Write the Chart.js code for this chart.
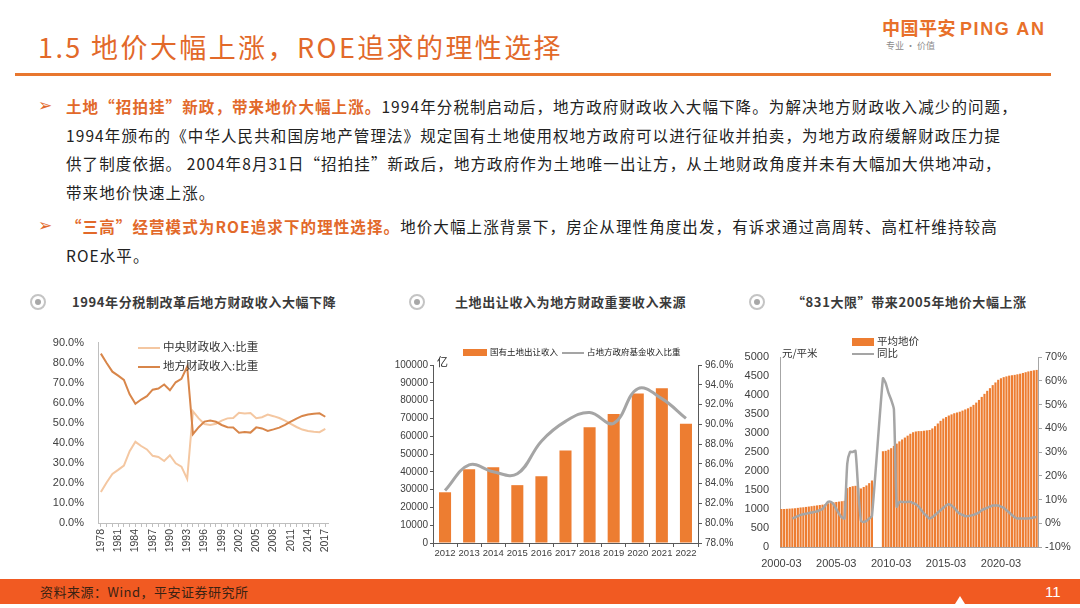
<!DOCTYPE html>
<html>
<head>
<meta charset="utf-8">
<script src="https://cdn.jsdelivr.net/npm/chart.js@4.4.0/dist/chart.umd.min.js"></script>
<style>
  body { margin: 0; background: #fff; }
  #slide { position: relative; width: 1080px; height: 608px; overflow: hidden; background: #fff;
           font-family: "Noto Sans CJK SC", sans-serif; }
  .abs { position: absolute; white-space: nowrap; }
  .title { left: 38px; top: 27px; font-size: 27px; letter-spacing: 2.4px; color: #E2692A; line-height: 40px; }
  .rule { left: 15px; top: 73px; width: 1036px; height: 3px; background: #E8772E; }
  .logo { left: 882px; top: 15px; font-size: 18px; font-weight: 700; color: #E8702A; line-height: 24px; letter-spacing: 0.5px; }
  .logo .en { font-family: "Liberation Sans", Arial, sans-serif; letter-spacing: 1.6px; margin-left: 4px; }
  .slogan { left: 886px; top: 39px; font-size: 9px; color: #8a8a8a; }
  .line { left: 66px; font-size: 15.5px; letter-spacing: 1.1px; color: #222; line-height: 29px; height: 29px; }
  .line b { color: #E2692A; font-weight: 700; }
  .arrow { left: 38px; font-family: "DejaVu Sans", sans-serif; font-size: 17px; color: #E2692A; line-height: 29px; }
  .ctitle { font-size: 13px; font-weight: 700; color: #3a3a3a; letter-spacing: 0.6px; line-height: 20px; }
  .icon { width: 12px; height: 12px; border: 2px solid #C4C4C4; border-radius: 50%; background: #fff; }
  .icon::after { content: ""; position: absolute; left: 3px; top: 3px; width: 6px; height: 6px; border-radius: 50%; background: #A8A8A8; }
  .leg { font-size: 11.5px; color: #333; line-height: 14px; }
  .leg2 { font-size: 8.5px; color: #222; line-height: 12px; }
  .sw { display: inline-block; vertical-align: middle; margin-right: 3px; }
  .footer { left: 0; top: 579px; width: 1080px; height: 25px; background: #F15A22; }
  .ftext { left: 40px; top: 582px; font-size: 13px; color: #3b2213; line-height: 20px; letter-spacing: 0.5px; }
  .pnum { left: 1045px; top: 581px; font-size: 15px; color: #fff; font-family: "Liberation Sans", sans-serif; line-height: 22px; }
  .box { position: absolute; }
</style>
</head>
<body>
<div id="slide">
  <div class="abs title">1.5 地价大幅上涨，ROE追求的理性选择</div>
  <div class="abs logo">中国平安<span class="en">PING AN</span></div>
  <div class="abs slogan">专业 · 价值</div>
  <div class="abs rule"></div>

  <div class="abs arrow" style="top:91px">➢</div>
  <div class="abs line" style="top:92px"><b>土地“招拍挂”新政，带来地价大幅上涨。</b>1994年分税制启动后，地方政府财政收入大幅下降。为解决地方财政收入减少的问题，</div>
  <div class="abs line" style="top:121px">1994年颁布的《中华人民共和国房地产管理法》规定国有土地使用权地方政府可以进行征收并拍卖，为地方政府缓解财政压力提</div>
  <div class="abs line" style="top:149px">供了制度依据。 2004年8月31日“招拍挂”新政后，地方政府作为土地唯一出让方，从土地财政角度并未有大幅加大供地冲动，</div>
  <div class="abs line" style="top:178px">带来地价快速上涨。</div>
  <div class="abs arrow" style="top:211px">➢</div>
  <div class="abs line" style="top:212px"><b>“三高”经营模式为ROE追求下的理性选择。</b>地价大幅上涨背景下，房企从理性角度出发，有诉求通过高周转、高杠杆维持较高</div>
  <div class="abs line" style="top:241px">ROE水平。</div>

  <div class="abs icon" style="left:30px;top:294px"></div>
  <div class="abs ctitle" style="left:72px;top:292px">1994年分税制改革后地方财政收入大幅下降</div>
  <div class="abs icon" style="left:409px;top:294px"></div>
  <div class="abs ctitle" style="left:455px;top:292px">土地出让收入为地方财政重要收入来源</div>
  <div class="abs icon" style="left:749px;top:294px"></div>
  <div class="abs ctitle" style="left:792px;top:292px">“831大限”带来2005年地价大幅上涨</div>

  <div class="box" style="left:40px;top:330px;width:300px;height:232px"><canvas id="chart1"></canvas></div>
  <div class="box" style="left:390px;top:355px;width:350px;height:210px"><canvas id="chart2"></canvas></div>
  <div class="box" style="left:735px;top:345px;width:340px;height:225px"><canvas id="chart3"></canvas></div>

  <div class="abs leg" style="left:138px;top:339px"><span class="sw" style="width:22px;height:2px;background:#F4C7A1"></span>中央财政收入:比重</div>
  <div class="abs leg" style="left:138px;top:358px"><span class="sw" style="width:22px;height:2px;background:#D8864A"></span>地方财政收入:比重</div>

  <div class="abs leg2" style="left:463px;top:345px"><span class="sw" style="width:24px;height:7px;background:#ED7D31"></span>国有土地出让收入 <span class="sw" style="width:22px;height:2px;background:#A5A5A5;margin-left:2px"></span>占地方政府基金收入比重</div>
  <div class="abs" style="left:437px;top:354px;font-size:11px;color:#222;line-height:14px">亿</div>

  <div class="abs leg" style="left:852px;top:334px;font-size:10.5px"><span class="sw" style="width:22px;height:8px;background:#ED7D31"></span>平均地价</div>
  <div class="abs leg" style="left:852px;top:346px;font-size:10.5px"><span class="sw" style="width:22px;height:2.5px;background:#A5A5A5"></span>同比</div>
  <div class="abs" style="left:782px;top:346px;font-size:10.5px;color:#333;line-height:14px">元/平米</div>

  <div class="abs footer"></div>
  <div class="abs ftext">资料来源：Wind，平安证券研究所</div>
  <div class="abs" style="left:955px;top:596px;width:0;height:0;border-left:5px solid transparent;border-right:5px solid transparent;border-bottom:8px solid #fff"></div>
  <div class="abs pnum">11</div>
</div>

<script>
// chart 1: 中央/地方财政收入比重 1978-2017
const fiscalYears = ["1978","1979","1980","1981","1982","1983","1984","1985","1986","1987",
    "1988","1989","1990","1991","1992","1993","1994","1995","1996","1997",
    "1998","1999","2000","2001","2002","2003","2004","2005","2006","2007",
    "2008","2009","2010","2011","2012","2013","2014","2015","2016","2017"];
const centralShare = [15.5, 20.2, 24.5, 26.5, 28.6, 35.8, 40.5, 38.4, 36.7, 33.5,
    32.9, 30.9, 33.8, 29.8, 28.1, 22.0, 55.7, 52.2, 49.4, 48.9,
    49.5, 51.1, 52.2, 52.4, 55.0, 54.6, 54.9, 52.3, 52.8, 54.1,
    53.3, 52.4, 51.1, 49.4, 47.9, 46.6, 45.9, 45.5, 45.3, 47.0];
const localShare = [84.5, 79.8, 75.5, 73.5, 71.4, 64.2, 59.5, 61.6, 63.3, 66.5,
    67.1, 69.1, 66.2, 70.2, 71.9, 78.0, 44.3, 47.8, 50.6, 51.1,
    50.5, 48.9, 47.8, 47.6, 45.0, 45.4, 45.1, 47.7, 47.2, 45.9,
    46.7, 47.6, 48.9, 50.6, 52.1, 53.4, 54.1, 54.5, 54.7, 53.0];

// chart 2: 国有土地出让收入 (亿) and 占比 (%)
const landYears = ["2012","2013","2014","2015","2016","2017","2018","2019","2020","2021","2022"];
const landRevenue = [28500, 41500, 42500, 32500, 37500, 52000, 65000, 72500, 84000, 87000, 67000];
const landRatio = [83.3, 85.9, 85.2, 85.0, 88.3, 90.3, 91.2, 90.1, 93.6, 92.6, 90.6];

// chart 3: 平均地价 quarterly 2000-03 .. 2023-06
const avgPrice = [
    1000, 1000, 1005, 1010,  1015, 1020, 1030, 1040,  1045, 1055, 1065, 1075,
    1085, 1095, 1105, 1115,  1125, 1150, 1165, 1175,  1185, 1195, 1205, 1215,
    1550, 1580, 1600, 1610,  1560, 1540, 1580, 1620,  1680, 1750, null, null,
    null, 2520, 2530, 2560,  2600, 2660, 2720, 2780,  2830, 2880, 2930, 2980,
    3020, 3040, 3050, 3050,  3060, 3070, 3080, 3120,  3180, 3250, 3320, 3380,
    3420, 3460, 3490, 3520,  3540, 3560, 3590, 3620,  3650, 3690, 3740, 3800,
    3870, 3950, 4030, 4110,  4180, 4260, 4330, 4400,  4440, 4470, 4490, 4510,
    4520, 4530, 4545, 4560,  4580, 4600, 4620, 4635,  4650, 4660];
const priceYoy = [
    null, null, null, null,  2, 2.5, 3, 3.5,  3.8, 4, 4.3, 4.5,
    4.8, 5, 5.5, 6,  7.5, 9, 9, 8,  6, 4, 2.5, 2,
    25, 30, 30, 30.5,  14, 1, 0.5, 1,  2, 3, null, null,
    null, 61, 59, 55,  52, 48, 7, 9,  9, 9, 9, 9,
    8.5, 8, 7, 5.5,  4, 3, 2, 2.5,  3.5, 4.5, 5.5, 6.5,
    7.5, 8, 7.5, 6.5,  5, 4, 3.5, 3,  3, 3.2, 3.5, 4,
    4.5, 5.5, 6, 6.5,  7, 7.5, 7.5, 7.5,  7, 6.5, 5.5, 4.5,
    3.5, 2.5, 2, 2,  2, 2, 2, 2.2,  2.5, 2.5];
const quarterMonths = ["03", "06", "09", "12"];
const quarterLabels = [];
for (let y = 2000; quarterLabels.length < avgPrice.length; y++) {
    quarterMonths.forEach(m => { if (quarterLabels.length < avgPrice.length) quarterLabels.push(y + "-" + m); });
}

Chart.defaults.font.family = "'Liberation Sans', Arial, sans-serif";
Chart.defaults.color = "#404040";
Chart.defaults.animation = false;
Chart.defaults.plugins.legend.display = false;
Chart.defaults.plugins.tooltip.enabled = false;

// First line chart
new Chart("chart1", {
    type: "line",
    data: {
        labels: fiscalYears,
        datasets: [{
            label: "地方财政收入:比重",
            data: localShare,
            borderColor: "#D8864A",
            borderWidth: 2,
            pointRadius: 0,
            tension: 0
        }, {
            label: "中央财政收入:比重",
            data: centralShare,
            borderColor: "#F4C7A1",
            borderWidth: 2,
            pointRadius: 0,
            tension: 0
        }]
    },
    options: {
        responsive: true,
        maintainAspectRatio: false,
        layout: { padding: { top: 12, right: 9, left: 0, bottom: 0 } },
        scales: {
            x: {
                offset: true,
                border: { color: "#BFBFBF" },
                grid: { drawOnChartArea: false, tickLength: 4, color: "#BFBFBF" },
                ticks: {
                    autoSkip: false, minRotation: 90, maxRotation: 90, padding: 2,
                    font: { size: 10.5 },
                    callback: function (v, i) { return i % 3 === 0 ? fiscalYears[i] : ""; }
                },
                afterFit: (s) => { s.height = 39; }
            },
            y: {
                min: 0, max: 90,
                border: { color: "#BFBFBF" },
                grid: { display: false },
                ticks: { stepSize: 10, padding: 6, font: { size: 11 },
                    callback: (v) => v.toFixed(1) + "%" },
                afterFit: (s) => { s.width = 58; }
            }
        }
    }
});

// Bar + line chart
new Chart("chart2", {
    type: "bar",
    data: {
        labels: landYears,
        datasets: [{
            type: "line",
            label: "占地方政府基金收入比重",
            data: landRatio,
            yAxisID: "y1",
            borderColor: "#A5A5A5",
            borderWidth: 3,
            pointRadius: 0,
            tension: 0.4,
            order: 0
        }, {
            label: "国有土地出让收入",
            data: landRevenue,
            yAxisID: "y",
            backgroundColor: "#ED7D31",
            categoryPercentage: 1,
            barPercentage: 0.5,
            order: 1
        }]
    },
    options: {
        responsive: true,
        maintainAspectRatio: false,
        layout: { padding: { top: 10, right: 0, left: 0, bottom: 0 } },
        scales: {
            x: {
                border: { color: "#595959" },
                grid: { drawOnChartArea: false, tickLength: 4, color: "#595959" },
                ticks: { font: { size: 9.5 }, padding: 1, maxRotation: 0, autoSkip: false },
                afterFit: (s) => { s.height = 22; }
            },
            y: {
                min: 0, max: 100000,
                border: { color: "#595959" },
                grid: { drawOnChartArea: false, tickLength: 3, color: "#595959" },
                ticks: { stepSize: 10000, padding: 2, font: { size: 10 },
                    callback: (v) => String(v) },
                afterFit: (s) => { s.width = 43; }
            },
            y1: {
                position: "right",
                min: 78, max: 96,
                border: { color: "#595959" },
                grid: { drawOnChartArea: false, tickLength: 4, color: "#595959" },
                ticks: { stepSize: 2, padding: 3, font: { size: 10 },
                    callback: (v) => v.toFixed(1) + "%" },
                afterFit: (s) => { s.width = 42; }
            }
        }
    }
});

// Quarterly bars + yoy line
new Chart("chart3", {
    type: "bar",
    data: {
        labels: quarterLabels,
        datasets: [{
            type: "line",
            label: "同比",
            data: priceYoy,
            yAxisID: "y1",
            borderColor: "#A5A5A5",
            borderWidth: 2.5,
            pointRadius: 0,
            tension: 0.2,
            spanGaps: true,
            order: 0
        }, {
            label: "平均地价",
            data: avgPrice,
            yAxisID: "y",
            backgroundColor: "#ED7D31",
            categoryPercentage: 1,
            barPercentage: 0.78,
            order: 1
        }]
    },
    options: {
        responsive: true,
        maintainAspectRatio: false,
        layout: { padding: { top: 12, right: 0, left: 0, bottom: 0 } },
        scales: {
            x: {
                border: { color: "#A6A6A6" },
                grid: { display: false },
                ticks: {
                    autoSkip: false, maxRotation: 0, minRotation: 0, padding: 2,
                    font: { size: 11 },
                    callback: function (v, i) { return i % 20 === 0 ? quarterLabels[i] : ""; }
                },
                afterFit: (s) => { s.height = 23; }
            },
            y: {
                min: 0, max: 5000,
                border: { color: "#A6A6A6" },
                grid: { display: false },
                ticks: { stepSize: 500, padding: 3, font: { size: 11 },
                    callback: (v) => String(v) },
                afterFit: (s) => { s.width = 45; }
            },
            y1: {
                position: "right",
                min: -10, max: 70,
                border: { color: "#A6A6A6" },
                grid: { drawOnChartArea: false, tickLength: 4, color: "#A6A6A6" },
                ticks: { stepSize: 10, padding: 3, font: { size: 11 },
                    callback: (v) => v + "%" },
                afterFit: (s) => { s.width = 37; }
            }
        }
    }
});
</script>
</body>
</html>
